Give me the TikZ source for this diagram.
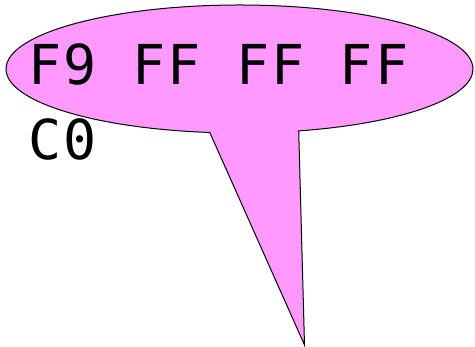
\documentclass[tikz,border=0pt]{standalone}
\usepackage{fontspec}
\newfontfamily\bytefont[LetterSpace=4]{DejaVu Sans Mono}
\usepackage{tikz}
\usetikzlibrary{shapes.callouts}
\definecolor{BubblePink}{HTML}{FF99FF}
\definecolor{BubbleBlack}{HTML}{000000}
\tikzset{
    % Speech bubble style
    bubblenode/.style={
        ellipse callout,
        draw=BubbleBlack,
        fill=BubblePink,
        line width=1pt,
        minimum width=467pt,
        minimum height=128pt,
        inner sep=0pt,
        callout pointer arc=22
    },
    % Byte text style
    bytenode/.style={
        align=left,
        inner sep=0pt,
        text=BubbleBlack,
        font=\bytefont\fontsize{55}{75}\selectfont
    }
}

\begin{document}
\begin{tikzpicture}[x=1pt, y=1pt]
        \useasboundingbox (0,0) rectangle (475,347);

        % Pointer tip
        \coordinate (tip) at (304.5,2);

        % Bubble
        \node[bubblenode, callout absolute pointer={(tip)}] (bubble) at (239.5,278) {};

        % Bytes
        \node[bytenode, anchor=base west] (bytes) at (28.5,187) {F9 FF FF FF\\C0};
\end{tikzpicture}
\end{document}
